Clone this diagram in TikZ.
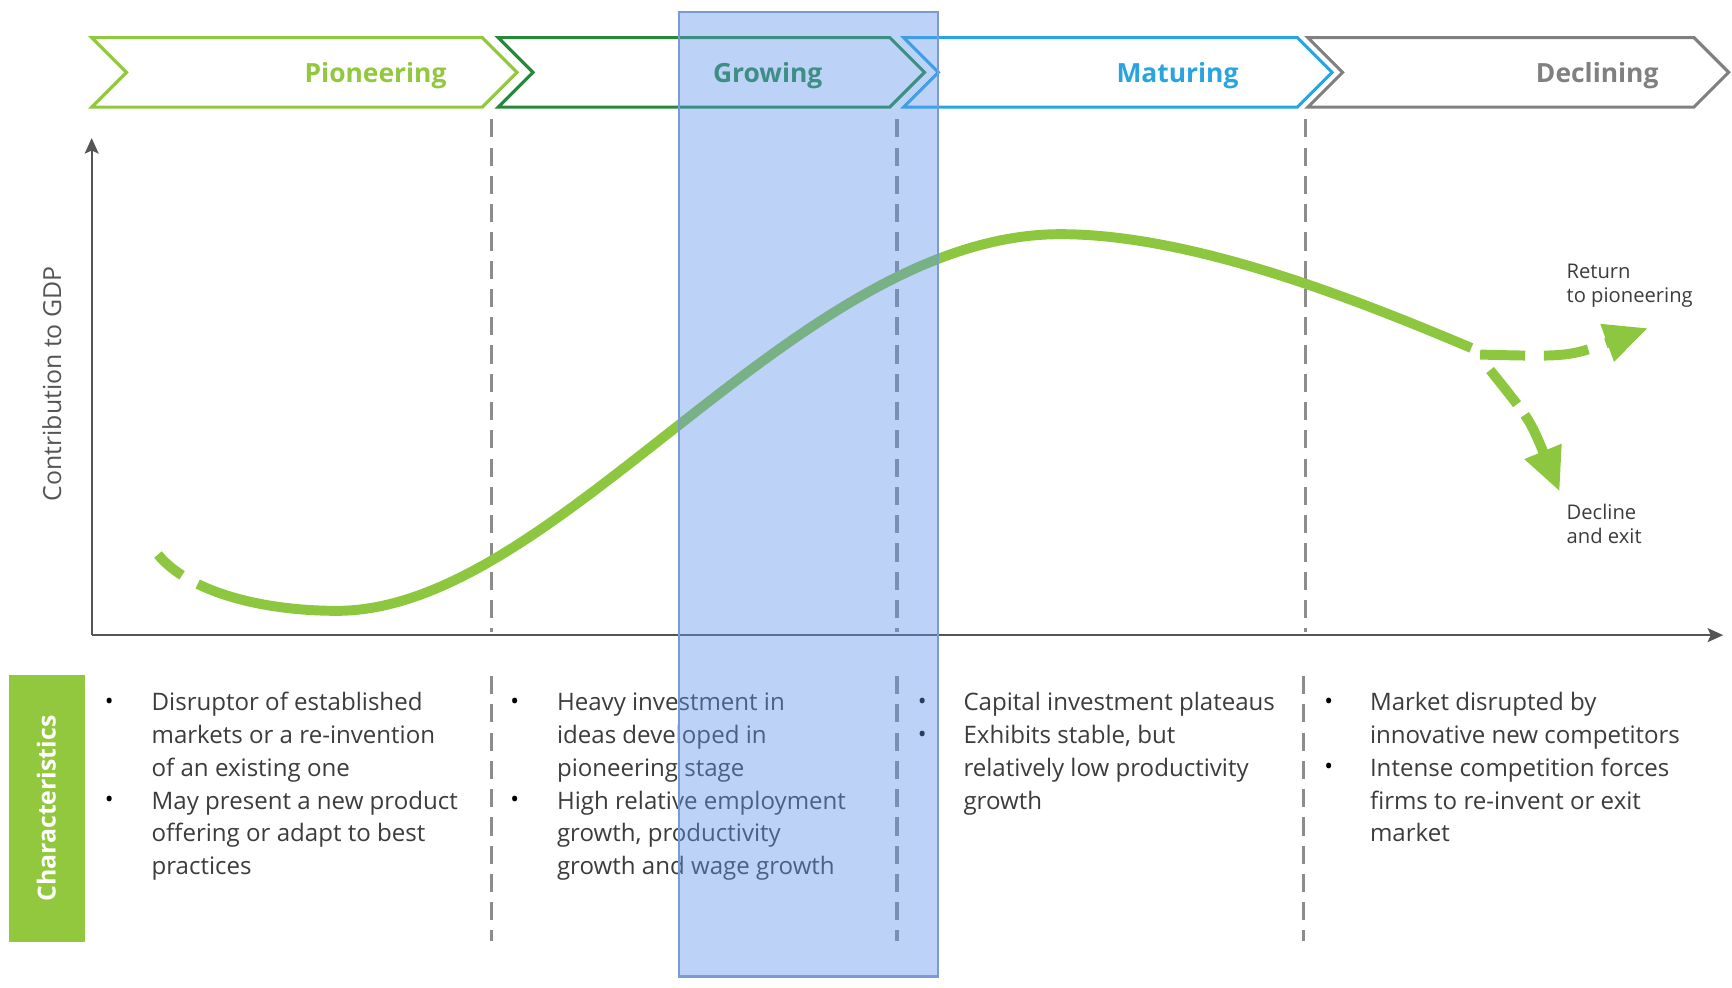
\documentclass[tikz,border=0pt]{standalone}
\usepackage{fontspec}
\setmainfont{Open Sans}
\usetikzlibrary{arrows.meta}

\definecolor{pion}{RGB}{146,200,62}
\definecolor{grow}{RGB}{38,137,58}
\definecolor{matu}{RGB}{40,165,225}
\definecolor{decl}{RGB}{128,128,128}
\definecolor{axisgray}{RGB}{85,85,85}
\definecolor{divgray}{RGB}{140,140,140}
\definecolor{curvegreen}{RGB}{141,198,63}
\definecolor{textgray}{RGB}{60,60,60}
\definecolor{labelgray}{RGB}{85,85,85}
\definecolor{bandfill}{RGB}{95,150,235}
\definecolor{bandedge}{RGB}{120,155,215}

% one stage chevron: left edge, tip x, colour
\newcommand\stagechevron[3]{%
  \draw[chev, draw=#3] (#1,34) -- ({#2-31.5},34) -- (#2,65.5) -- ({#2-31.5},97)
    -- (#1,97) -- ({#1+31.5},65.5) -- cycle;}

% one column of characteristics: name prefix, x of text, lines
\newcommand\textcolumn[3]{%
  \foreach \ln [count=\k] in {#3}
    \node[body, anchor=base west] (#1-\k) at ({#2},{643+29.8*(\k-1)}) {\ln};}

\begin{document}
\begin{tikzpicture}[x=0.025cm, y=-0.025cm,
  chev/.style={line width=2pt, line join=miter},
  phase/.style={font=\bfseries\fontsize{17}{20}\selectfont, anchor=base, inner sep=0},
  axisline/.style={draw=axisgray, line width=1.3pt},
  divider/.style={draw=divgray, line width=2.2pt, dash pattern=on 11.7pt off 6.5pt},
  curve/.style={draw=curvegreen, line width=6.4pt},
  headtip/.style={-{Triangle[length=28pt,width=24pt]}},
  body/.style={font=\fontsize{15.5}{21}\selectfont, text=textgray, inner sep=0},
  bul/.style={font=\fontsize{15}{18}\selectfont, text=black, inner sep=0, anchor=base},
  small/.style={font=\fontsize{13}{15.6}\selectfont, text=textgray, inner sep=0, anchor=base west},
]
\useasboundingbox (0,0) rectangle (1568,894);

% stage chevrons
\stagechevron{83}{468}{pion}
\stagechevron{451}{837}{grow}
\stagechevron{818}{1206}{matu}
\stagechevron{1184}{1565}{decl}
\node[phase, text=pion] (pioneering) at (340,75) {Pioneering};
\node[phase, text=grow] (growing) at (695,75) {Growing};
\node[phase, text=matu] (maturing) at (1066,75) {Maturing};
\node[phase, text=decl] (declining) at (1446,75) {Declining};

% axes
\coordinate (origin) at (83,575);
\coordinate (ytop) at (83,125);
\coordinate (xend) at (1560,575);
\draw[axisline, -{Stealth[length=10pt,width=9pt,inset=2pt]}] (origin) -- (ytop);
\draw[axisline, -{Stealth[length=10pt,width=9pt,inset=2pt]}] (origin) -- (xend);
\node[rotate=90, font=\fontsize{16}{19}\selectfont, text=labelgray, inner sep=0] (ylabel) at (47,347.5) {Contribution to GDP};

% stage dividers
\foreach \x [count=\i] in {445,812,1182} {
  \coordinate (dtop\i) at (\x,108);
  \coordinate (dbot\i) at (\x,572);
  \draw[divider] (dtop\i) -- (dbot\i);
}
\foreach \x [count=\i] in {445,812,1180} {
  \coordinate (ltop\i) at (\x,612);
  \coordinate (lbot\i) at (\x,852);
  \draw[divider] (ltop\i) -- (lbot\i);
}

% life-cycle curve: dashed start, trough, rise, peak, fall
\coordinate (cstart) at (143,502);
\coordinate (trough) at (305,553);
\coordinate (peak) at (960,212);
\coordinate (cend) at (1332,315);
\draw[curve, dash pattern=on 20.6pt off 11.5pt on 2000pt]
  (cstart) .. controls (170,535) and (235,553) .. (trough)
           .. controls (505,553) and (720,212) .. (peak)
           .. controls (1080,212) and (1230,272) .. (cend);

% the two possible outcomes
\coordinate (forkA) at (1340,321);
\coordinate (returnTip) at (1492,297);
\coordinate (forkB) at (1349,335);
\coordinate (exitTip) at (1412,445);
\draw[curve, headtip, dash pattern=on 29pt off 12pt] (forkA) .. controls (1420,323) .. (returnTip);
\draw[curve, headtip, dash pattern=on 28pt off 8.5pt] (forkB) .. controls (1385,380) .. (exitTip);
\node[small] (ret1) at (1418,252) {Return};
\node[small] (ret2) at (1418,274) {to pioneering};
\node[small] (dec1) at (1418,470) {Decline};
\node[small] (dec2) at (1418,492) {and exit};

% characteristics
\fill[pion] (8,611) rectangle (77,853);
\node[rotate=90, font=\bfseries\fontsize{16}{19}\selectfont, text=white, inner sep=0] (charlabel) at (42,732) {Characteristics};

\textcolumn{colA}{137}{Disruptor of established, markets or a re-invention, of an existing one,
  May present a new product, offering or adapt to best, practices}
\node[bul] (colA-b1) at (99,642) {•};
\node[bul] (colA-b2) at (99,731.4) {•};

\textcolumn{colB}{504}{Heavy investment in, ideas developed in, pioneering stage,
  High relative employment, {growth, productivity}, growth and wage growth}
\node[bul] (colB-b1) at (466,642) {•};
\node[bul] (colB-b2) at (466,731.4) {•};

\textcolumn{colC}{872}{Capital investment plateaus, {Exhibits stable, but},
  relatively low productivity, growth}
\node[bul] (colC-b1) at (835,642) {•};
\node[bul] (colC-b2) at (835,671.8) {•};

\textcolumn{colD}{1240}{Market disrupted by, innovative new competitors,
  Intense competition forces, firms to re-invent or exit, market}
\node[bul] (colD-b1) at (1203,642) {•};
\node[bul] (colD-b2) at (1203,701.6) {•};

% highlighted stage band
\coordinate (bandTL) at (615,11);
\coordinate (bandBR) at (849,884);
\fill[bandfill, fill opacity=0.42] (bandTL) rectangle (bandBR);
\draw[bandedge, line width=1.4pt] (bandTL) rectangle (bandBR);
\end{tikzpicture}
\end{document}
